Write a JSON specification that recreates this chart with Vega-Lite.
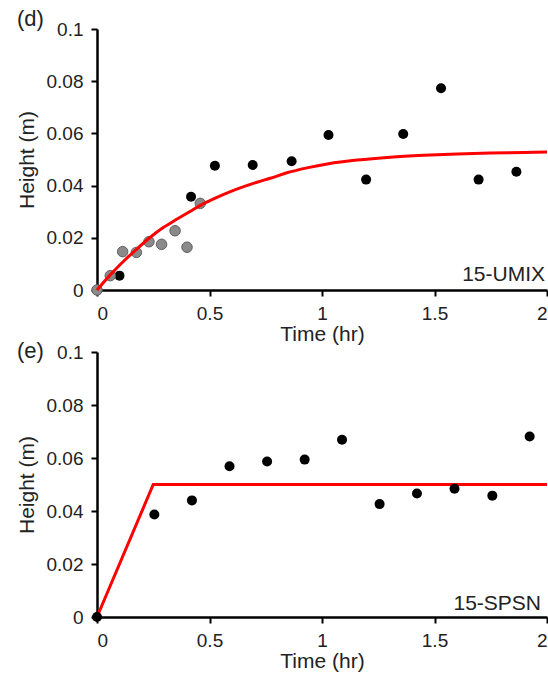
{
  "$schema": "https://vega.github.io/schema/vega-lite/v6.json",
  "padding": {"left": 16, "top": 8, "right": 0, "bottom": 2},
  "background": "white",
  "config": {
    "view": {"stroke": null},
    "font": "Liberation Sans",
    "axis": {
      "grid": false,
      "domainColor": "black",
      "domainWidth": 2.5,
      "tickColor": "black",
      "tickWidth": 2,
      "tickSize": 6,
      "labelFontSize": 19,
      "labelColor": "#222222",
      "labelPadding": 8,
      "titleFontSize": 21,
      "titleColor": "#222222",
      "titleFontWeight": "normal"
    },
    "axisX": {"titlePadding": 0},
    "axisY": {"titlePadding": 9}
  },
  "datasets": {
    "d_gray": [
      {"t": 0, "h": 0},
      {"t": 0.059, "h": 0.0055},
      {"t": 0.114, "h": 0.0147},
      {"t": 0.175, "h": 0.0144},
      {"t": 0.231, "h": 0.0185},
      {"t": 0.287, "h": 0.0175},
      {"t": 0.347, "h": 0.0227},
      {"t": 0.4, "h": 0.0164},
      {"t": 0.459, "h": 0.0332}
    ],
    "d_black": [
      {"t": 0.1, "h": 0.0055},
      {"t": 0.418, "h": 0.0357},
      {"t": 0.524, "h": 0.0476},
      {"t": 0.692, "h": 0.0479},
      {"t": 0.865, "h": 0.0493},
      {"t": 1.029, "h": 0.0594},
      {"t": 1.196, "h": 0.0423},
      {"t": 1.361, "h": 0.0598},
      {"t": 1.529, "h": 0.0773},
      {"t": 1.696, "h": 0.0423},
      {"t": 1.864, "h": 0.0453}
    ],
    "d_curve": [
      {"t": 0, "h": 0},
      {"t": 0.059, "h": 0.0058},
      {"t": 0.118, "h": 0.011},
      {"t": 0.178, "h": 0.0158},
      {"t": 0.237, "h": 0.0202},
      {"t": 0.296, "h": 0.024},
      {"t": 0.356, "h": 0.0272},
      {"t": 0.415, "h": 0.0302},
      {"t": 0.474, "h": 0.0331},
      {"t": 0.533, "h": 0.0355},
      {"t": 0.593, "h": 0.0377},
      {"t": 0.652, "h": 0.0396},
      {"t": 0.711, "h": 0.0413},
      {"t": 0.77, "h": 0.0428},
      {"t": 0.844, "h": 0.0449},
      {"t": 0.933, "h": 0.0468},
      {"t": 1.029, "h": 0.0484},
      {"t": 1.156, "h": 0.0498},
      {"t": 1.304, "h": 0.0509},
      {"t": 1.452, "h": 0.0516},
      {"t": 1.6, "h": 0.0521},
      {"t": 1.748, "h": 0.0525},
      {"t": 1.896, "h": 0.0527},
      {"t": 2.0, "h": 0.0529}
    ],
    "d_label": [{"t": 2, "h": 0, "label": "15-UMIX"}],
    "e_points": [
      {"t": 0, "h": 0},
      {"t": 0.255, "h": 0.0387},
      {"t": 0.422, "h": 0.044},
      {"t": 0.589, "h": 0.0569},
      {"t": 0.756, "h": 0.0587},
      {"t": 0.923, "h": 0.0594},
      {"t": 1.089, "h": 0.0669},
      {"t": 1.256, "h": 0.0426},
      {"t": 1.422, "h": 0.0466},
      {"t": 1.589, "h": 0.0484},
      {"t": 1.757, "h": 0.0458},
      {"t": 1.923, "h": 0.0681}
    ],
    "e_line": [
      {"t": 0, "h": 0},
      {"t": 0.25, "h": 0.05},
      {"t": 2, "h": 0.05}
    ],
    "e_label": [{"t": 2, "h": 0, "label": "15-SPSN"}]
  },
  "spacing": 62,
  "bounds": "flush",
  "vconcat": [
    {
      "width": 450,
      "height": 261,
      "title": {"text": "(d)", "anchor": "start", "frame": "group", "dx": -80, "offset": -28, "fontSize": 22, "fontWeight": "normal", "color": "#222222", "baseline": "alphabetic"},
      "encoding": {
        "x": {"field": "t", "type": "quantitative", "scale": {"domain": [0, 2], "nice": false}, "axis": {"title": "Time (hr)", "values": [0, 0.5, 1, 1.5, 2], "format": "~g"}},
        "y": {"field": "h", "type": "quantitative", "scale": {"domain": [0, 0.1], "nice": false}, "axis": {"title": "Height (m)", "values": [0, 0.02, 0.04, 0.06, 0.08, 0.1], "format": "~g"}}
      },
      "layer": [
        {"data": {"name": "d_black"}, "mark": {"type": "circle", "size": 100, "color": "black", "opacity": 1}},
        {"data": {"name": "d_gray"}, "mark": {"type": "circle", "size": 110, "fill": "#8a8a8a", "stroke": "#5e5e5e", "strokeWidth": 1, "opacity": 1}},
        {"data": {"name": "d_curve"}, "mark": {"type": "line", "color": "#ff0000", "strokeWidth": 3, "interpolate": "monotone"}},
        {"data": {"name": "d_label"}, "mark": {"type": "text", "align": "right", "baseline": "alphabetic", "dx": -2, "dy": -9, "fontSize": 21, "color": "#222222"}, "encoding": {"text": {"field": "label"}}}
      ]
    },
    {
      "width": 450,
      "height": 265,
      "title": {"text": "(e)", "anchor": "start", "frame": "group", "dx": -80, "offset": -37, "fontSize": 22, "fontWeight": "normal", "color": "#222222", "baseline": "alphabetic"},
      "encoding": {
        "x": {"field": "t", "type": "quantitative", "scale": {"domain": [0, 2], "nice": false}, "axis": {"title": "Time (hr)", "values": [0, 0.5, 1, 1.5, 2], "format": "~g"}},
        "y": {"field": "h", "type": "quantitative", "scale": {"domain": [0, 0.1], "nice": false}, "axis": {"title": "Height (m)", "values": [0, 0.02, 0.04, 0.06, 0.08, 0.1], "format": "~g"}}
      },
      "layer": [
        {"data": {"name": "e_line"}, "mark": {"type": "line", "color": "#ff0000", "strokeWidth": 3}},
        {"data": {"name": "e_points"}, "mark": {"type": "circle", "size": 100, "color": "black", "opacity": 1}},
        {"data": {"name": "e_label"}, "mark": {"type": "text", "align": "right", "baseline": "alphabetic", "dx": -6, "dy": -7, "fontSize": 21, "color": "#222222"}, "encoding": {"text": {"field": "label"}}}
      ]
    }
  ]
}
